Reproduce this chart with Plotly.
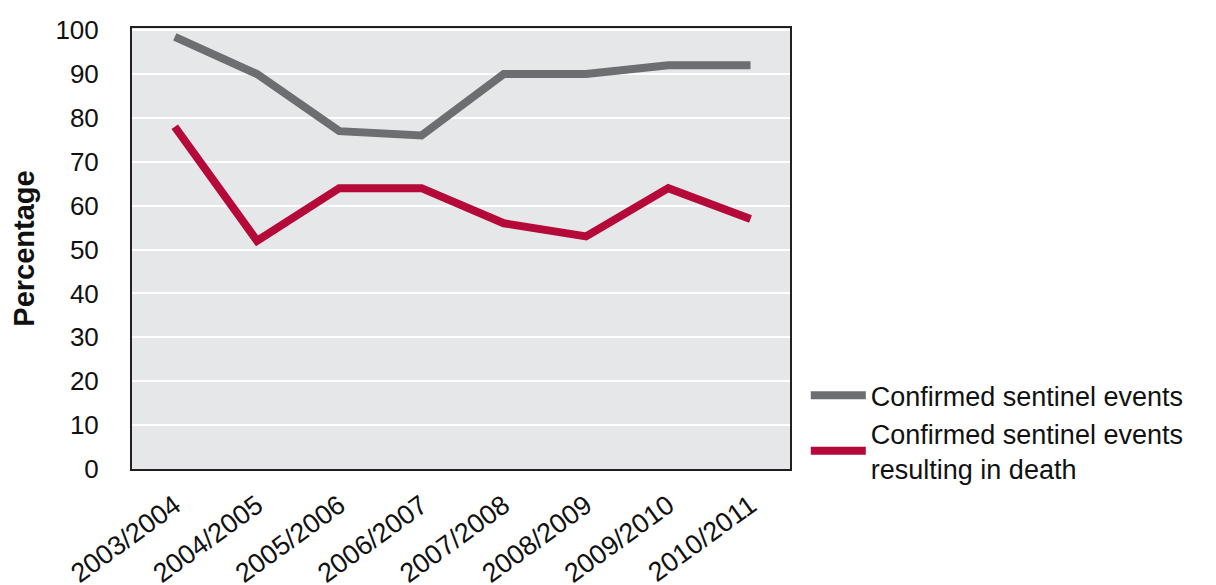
import plotly.graph_objects as go

years = ["2003/2004", "2004/2005", "2005/2006", "2006/2007",
         "2007/2008", "2008/2009", "2009/2010", "2010/2011"]
confirmed = [98.5, 90, 77, 76, 90, 90, 92, 92]
death = [78, 52, 64, 64, 56, 53, 64, 57]
y_ticks = [0, 10, 20, 30, 40, 50, 60, 70, 80, 90, 100]

FONT = "Liberation Sans, Arial, Helvetica, sans-serif"
GRAY = "#6d6e71"
RED = "#b5093a"
TXT = "#111111"

fig = go.Figure()
fig.add_trace(go.Scatter(x=years, y=confirmed, mode="lines",
                         name="Confirmed sentinel events",
                         line=dict(color=GRAY, width=8)))
fig.add_trace(go.Scatter(x=years, y=death, mode="lines",
                         name="Confirmed sentinel events<br>resulting in death",
                         line=dict(color=RED, width=8)))

fig.update_layout(
    width=1216, height=585,
    margin=dict(l=124, r=434, t=20, b=124, autoexpand=False),
    paper_bgcolor="white",
    plot_bgcolor="#e6e7e8",
    font=dict(family=FONT, size=26, color=TXT),
    showlegend=True,
    legend=dict(x=1.024, y=0.222, xanchor="left", yanchor="top",
                font=dict(size=27, family=FONT, color=TXT),
                itemwidth=55, tracegroupgap=0, bgcolor="rgba(0,0,0,0)"),
    xaxis=dict(type="category", range=[-0.52, 7.48], automargin=False,
               showgrid=False, zeroline=False,
               showline=True, mirror=True, linecolor="#231f20", linewidth=2,
               ticks="", tickangle=-36, ticklabelstandoff=8,
               tickfont=dict(size=27, family=FONT, color=TXT)),
    yaxis=dict(range=[0, 100.5], tickvals=y_ticks, automargin=False,
               showgrid=True, gridcolor="white", gridwidth=2,
               zeroline=False,
               showline=True, mirror=True, linecolor="#231f20", linewidth=2,
               ticks="", ticklabelstandoff=26,
               tickfont=dict(size=26, family=FONT, color=TXT),
               title=dict(text="<b>Percentage</b>", standoff=12,
                          font=dict(size=29, family=FONT, color=TXT))),
)

fig.write_html("out.html")
